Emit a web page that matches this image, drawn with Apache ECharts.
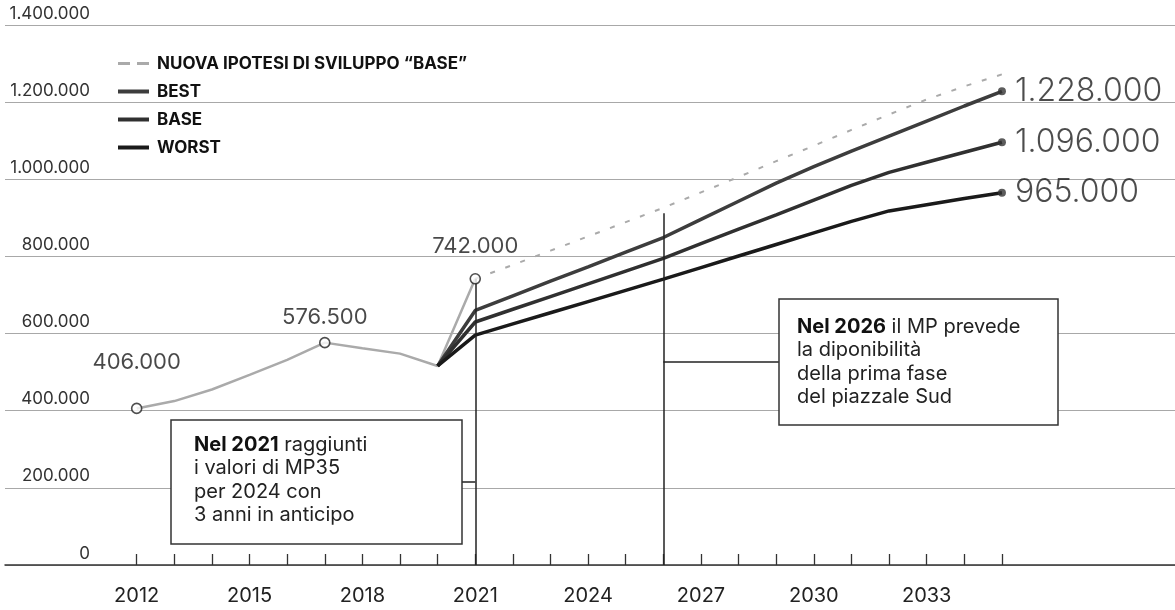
<!DOCTYPE html>
<html>
<head>
<meta charset="utf-8">
<script src="https://cdn.jsdelivr.net/npm/echarts@6/dist/echarts.min.js"></script>
<style>
html,body{margin:0;padding:0;background:#fff;}
#chart{width:1175px;height:610px;}
</style>
</head>
<body>
<div id="chart"></div>
<script>
// ---- DATA ----
const historyYears = [2012, 2013, 2014, 2015, 2016, 2017, 2018, 2019, 2020, 2021];
const historyValues = [406000, 425000, 455000, 493000, 532000, 576500, 562000, 548000, 516000, 742000];

const markedYears = [2012, 2017, 2021];
const markedValues = [406000, 576500, 742000];

const nuovaYears = [2021, 2022, 2023, 2024, 2025, 2026, 2027, 2028, 2029, 2030, 2031, 2032, 2033, 2034, 2035];
const nuovaValues = [742000, 778000, 815000, 852000, 889000, 926000, 966000, 1006000, 1047000, 1087000, 1128000, 1168000, 1207000, 1241000, 1272000];

const forecastYears = [2020, 2021, 2022, 2023, 2024, 2025, 2026, 2027, 2028, 2029, 2030, 2031, 2032, 2033, 2034, 2035];
const bestValues  = [516000, 660000, 698000, 736000, 773000, 811000, 849000, 896000, 943000, 990000, 1033000, 1073000, 1112000, 1151000, 1190000, 1228000];
const baseValues  = [516000, 630000, 663000, 696000, 729000, 762000, 795000, 833000, 871000, 908000, 946000, 984000, 1018000, 1044000, 1070000, 1096000];
const worstValues = [516000, 596000, 625000, 654000, 683000, 712000, 741000, 771000, 801000, 831000, 861000, 891000, 918000, 934000, 950000, 965000];

const tickYears = [2012, 2013, 2014, 2015, 2016, 2017, 2018, 2019, 2020, 2021, 2022, 2023, 2024, 2025, 2026, 2027, 2028, 2029, 2030, 2031, 2032, 2033, 2034, 2035];
const labelYears = [2012, 2015, 2018, 2021, 2024, 2027, 2030, 2033];

const seriesNames = ['NUOVA IPOTESI DI SVILUPPO “BASE”', 'BEST', 'BASE', 'WORST'];

// annotation connector lines (data coordinates)
const guideLines = [
  [[2021, 0], [2021, 742000]],
  [[2026, 0], [2026, 912000]],
  [[2020.64, 215000], [2021, 215000]],
  [[2026, 526000], [2029.07, 526000]]
];

const note1 = ['Nel 2021', ' raggiunti', 'i valori di MP35', 'per 2024 con', '3 anni in anticipo'];
const note2 = ['Nel 2026', ' il MP prevede', 'la diponibilità', 'della prima fase', 'del piazzale Sud'];

// ---- HELPERS ----
const FONT = 'Inter, "Liberation Sans", Arial, sans-serif';
function fmt(v) { return String(Math.round(v)).replace(/\B(?=(\d{3})+(?!\d))/g, '.'); }
function pairs(xs, ys) { return xs.map((x, i) => [x, ys[i]]); }

const chart = echarts.init(document.getElementById('chart'), null, {renderer: 'canvas'});

const markedGaps = [29, 8, 16];
const endYear = forecastYears[forecastYears.length - 1];
const endValues = [bestValues, baseValues, worstValues].map(a => a[a.length - 1]);

const richStyles = {
  b: {fontFamily: FONT, fontSize: 20, fontWeight: 'bold', fill: '#111', lineHeight: 23.5},
  r: {fontFamily: FONT, fontSize: 20, fontWeight: 'normal', fill: '#222', lineHeight: 23.5}
};
function noteText(n) {
  return '{b|' + n[0] + '}{r|' + n[1] + '}\n{r|' + n.slice(2).join('}\n{r|') + '}';
}

const option = {
  backgroundColor: '#fff',
  animation: false,
  textStyle: {fontFamily: FONT},
  grid: {left: 5, right: 0, top: 25, bottom: 45, containLabel: false},
  legend: {
    orient: 'vertical',
    left: 113,
    top: 50,
    itemWidth: 31,
    itemHeight: 4,
    itemGap: 11,
    selectedMode: false,
    textStyle: {fontFamily: FONT, fontSize: 17, fontWeight: 'bold', color: '#111', lineHeight: 16, padding: [0, 0, 0, 3]},
    data: [
      {name: seriesNames[0], icon: 'path://M0,0H12V3H0ZM19,0H31V3H19Z'},
      {name: seriesNames[1], icon: 'rect'},
      {name: seriesNames[2], icon: 'rect'},
      {name: seriesNames[3], icon: 'rect'}
    ]
  },
  xAxis: {
    type: 'value',
    min: 2008.5,
    max: 2039.6,
    splitLine: {show: false},
    axisLine: {show: true, lineStyle: {color: '#333', width: 1.5}},
    axisTick: {show: true, inside: true, length: 11, customValues: tickYears, lineStyle: {color: '#333', width: 1.3}},
    axisLabel: {customValues: labelYears, margin: 21, fontSize: 20, color: '#222', fontFamily: FONT, formatter: v => String(v)}
  },
  yAxis: {
    type: 'value',
    min: 0,
    max: 1400000,
    interval: 200000,
    axisLine: {show: false},
    axisTick: {show: false},
    splitLine: {show: true, lineStyle: {color: '#a8a8a8', width: 1.2}},
    axisLabel: {inside: true, align: 'right', margin: 85, verticalAlign: 'bottom', padding: [0, 0, 3, 0],
      fontSize: 17, color: '#333', fontFamily: FONT, formatter: v => fmt(v)}
  },
  series: [
    {
      name: 'guides', type: 'line', data: [], silent: true, z: 1,
      markLine: {
        silent: true, symbol: ['none', 'none'], label: {show: false},
        lineStyle: {color: '#222', width: 1.5, type: 'solid'},
        emphasis: {disabled: true},
        data: guideLines.map(l => [{coord: l[0]}, {coord: l[1]}])
      }
    },
    {
      name: 'storico', type: 'line', data: pairs(historyYears, historyValues),
      symbol: 'none', z: 2,
      lineStyle: {color: '#aaaaaa', width: 2.5}
    },
    {
      name: seriesNames[0], type: 'line', data: pairs(nuovaYears, nuovaValues),
      symbol: 'none', z: 2, color: '#aaaaaa',
      lineStyle: {color: '#aaaaaa', width: 2, type: [5, 11]}
    },
    {
      name: seriesNames[1], type: 'line', data: pairs(forecastYears, bestValues),
      symbol: 'none', z: 3, color: '#3d3d3d',
      lineStyle: {color: '#3d3d3d', width: 3.5}
    },
    {
      name: seriesNames[2], type: 'line', data: pairs(forecastYears, baseValues),
      symbol: 'none', z: 3, color: '#303030',
      lineStyle: {color: '#303030', width: 3.5}
    },
    {
      name: seriesNames[3], type: 'line', data: pairs(forecastYears, worstValues),
      symbol: 'none', z: 3, color: '#1a1a1a',
      lineStyle: {color: '#1a1a1a', width: 3.5}
    },
    {
      name: 'punti', type: 'scatter', z: 6, symbol: 'circle', symbolSize: 10,
      itemStyle: {color: '#fff', borderColor: '#222', borderWidth: 1.6},
      data: markedYears.map((y, i) => ({
        value: [y, markedValues[i]],
        label: {show: true, position: 'top', distance: markedGaps[i]}
      })),
      label: {show: true, formatter: p => fmt(p.value[1]), fontSize: 22, color: '#1a1a1a', fontFamily: FONT}
    },
    {
      name: 'fine', type: 'scatter', z: 6, symbol: 'circle', symbolSize: 8,
      itemStyle: {color: '#333'},
      data: endValues.map(v => [endYear, v]),
      label: {show: true, position: 'right', distance: 9, formatter: p => fmt(p.value[1]),
        fontSize: 32, fontWeight: 300, color: '#1f1f1f', fontFamily: FONT}
    }
  ],
  graphic: [
    {type: 'rect', z: 10, shape: {x: 171, y: 420, width: 291, height: 124},
      style: {fill: '#fff', stroke: '#333', lineWidth: 1.5}},
    {type: 'text', z: 11, x: 194, y: 433,
      style: {text: noteText(note1), rich: richStyles, font: '20px ' + FONT, lineHeight: 23.5}},
    {type: 'rect', z: 10, shape: {x: 779, y: 299, width: 279, height: 126},
      style: {fill: '#fff', stroke: '#333', lineWidth: 1.5}},
    {type: 'text', z: 11, x: 797, y: 315,
      style: {text: noteText(note2), rich: richStyles, font: '20px ' + FONT, lineHeight: 23.5}}
  ]
};
chart.setOption(option);
</script>
</body>
</html>
